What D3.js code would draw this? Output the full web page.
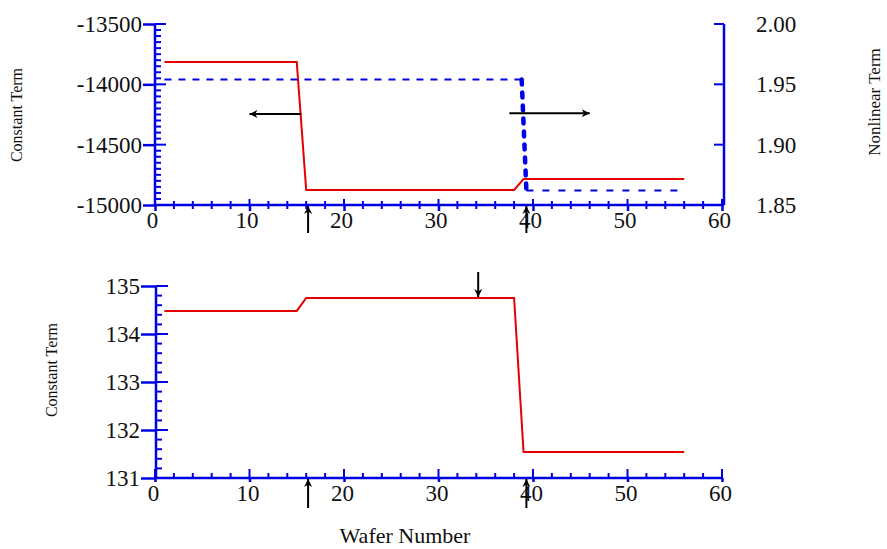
<!DOCTYPE html>
<html>
<head>
<meta charset="utf-8">
<script src="https://cdn.jsdelivr.net/npm/d3@7"></script>
<style>
  body { margin: 0; background: #fff; }
  svg text { font-family: "Liberation Serif", "Times New Roman", serif; fill: #111; }
</style>
</head>
<body>
<svg id="chart" width="887" height="549"></svg>
<script>
// data
const topConstX = [1, 15, 16, 38, 39, 56];
const topConstY = [-13815, -13815, -14875, -14875, -14785, -14785];
const topNonlinX = [1, 38.8, 39.3, 56];
const topNonlinY = [1.954, 1.954, 1.862, 1.862];
const botConstX = [1, 15, 16, 38, 39, 56];
const botConstY = [134.48, 134.48, 134.75, 134.75, 131.54, 131.54];

const xTicks = [0, 10, 20, 30, 40, 50, 60];
const topLeftTicks = [-15000, -14500, -14000, -13500];
const topRightTicks = [1.85, 1.90, 1.95, 2.00];
const botLeftTicks = [131, 132, 133, 134, 135];

// arrows: [x1, y1, x2, y2] in data units of each panel (head at x2,y2)
const topArrowsH = [[15.5, -14245, 10, -14245]];          // left axis
const topArrowsHR = [[37.5, 1.926, 46, 1.926]];           // right axis
const shiftWafers = [16.2, 39.3];
const downWafer = [34.2];

const blue = "#0000e6", red = "#e60000";
const svg = d3.select("#chart");

const x = d3.scaleLinear().domain([0, 60]).range([155, 722]);
const yTop = d3.scaleLinear().domain([-15000, -13500]).range([205, 24]);
const yTopR = d3.scaleLinear().domain([1.85, 2.00]).range([205, 24]);
const yBot = d3.scaleLinear().domain([131, 135]).range([478, 286]);

svg.append("defs").append("marker")
  .attr("id", "head").attr("viewBox", "0 0 10 10")
  .attr("refX", 10).attr("refY", 5)
  .attr("markerWidth", 5).attr("markerHeight", 4)
  .attr("markerUnits", "strokeWidth")
  .attr("orient", "auto")
  .append("path").attr("d", "M0,0 L10,5 L0,10 L3,5 Z").attr("fill", "#000");

function styleAxis(g) {
  g.attr("font-size", 23).attr("font-family", "Liberation Serif, serif");
  g.selectAll("path.domain").attr("stroke", blue).attr("stroke-width", 2.5);
  g.selectAll(".tick line").attr("stroke", blue).attr("stroke-width", 2.5);
  g.selectAll(".tick text").attr("fill", "#111");
}

function minorLines(g, vals, x1, x2, y1, y2) {
  g.selectAll(null).data(vals).join("line")
    .attr("x1", x1).attr("x2", x2).attr("y1", y1).attr("y2", y2)
    .attr("stroke", blue).attr("stroke-width", 2);
}

const plain = d => String(d);

// ---------- top panel ----------
const xMinor = d3.range(0, 61, 2);

// x axis (ticks crossing the line)
const gxT = svg.append("g").attr("transform", "translate(0,205)")
  .call(d3.axisBottom(x).tickValues(xTicks).tickSize(6).tickPadding(1).tickFormat(plain));
styleAxis(gxT);
gxT.select("path.domain").attr("d", "M" + x(0) + ",0H" + x(60));
gxT.selectAll(".tick text").attr("dx", -3);
minorLines(gxT, xMinor.filter(d => d % 10), d => x(d), d => x(d), -4, 4);
minorLines(gxT, xTicks, d => x(d), d => x(d), -6, 0);

// left axis
const gyT = svg.append("g").attr("transform", "translate(155,0)")
  .call(d3.axisLeft(yTop).tickValues(topLeftTicks).tickSize(12).tickPadding(1).tickFormat(plain));
styleAxis(gyT);
gyT.select("path.domain").attr("d", "M0," + yTop(-13500) + "V" + yTop(-15000));
minorLines(gyT, d3.range(-15000, -13499, 50).filter(d => d % 500), 0, 6, d => yTop(d), d => yTop(d));
minorLines(gyT, topLeftTicks, 0, 11, d => yTop(d), d => yTop(d));

// right axis
const gyR = svg.append("g").attr("transform", "translate(724,0)")
  .call(d3.axisRight(yTopR).tickValues(topRightTicks).tickSize(0).tickPadding(32).tickFormat(d3.format(".2f")));
styleAxis(gyR);
gyR.select("path.domain").attr("d", "M0," + yTopR(2.0) + "V" + yTopR(1.85));
minorLines(gyR, topRightTicks, -10, 0, d => yTopR(d), d => yTopR(d));

// series
const lineT = d3.line().x(d => x(d[0])).y(d => yTop(d[1]));
svg.append("path").datum(topConstX.map((v, i) => [v, topConstY[i]]))
  .attr("d", lineT).attr("fill", "none").attr("stroke", red).attr("stroke-width", 2);

const nl = topNonlinX.map((v, i) => [v, topNonlinY[i]]);
const lineR = d3.line().x(d => x(d[0])).y(d => yTopR(d[1]));
svg.append("path").datum(nl.slice(0, 2)).attr("d", lineR)
  .attr("fill", "none").attr("stroke", blue).attr("stroke-width", 2.2).attr("stroke-dasharray", "7,7");
svg.append("path").datum(nl.slice(2)).attr("d", lineR)
  .attr("fill", "none").attr("stroke", blue).attr("stroke-width", 2.2).attr("stroke-dasharray", "7,9");
svg.append("path").datum(nl.slice(1, 3)).attr("d", lineR)
  .attr("fill", "none").attr("stroke", blue).attr("stroke-width", 4.5)
  .attr("stroke-linecap", "round").attr("stroke-dasharray", "5,8");

// horizontal arrows
svg.selectAll(null).data(topArrowsH).join("line")
  .attr("x1", d => x(d[0])).attr("y1", d => yTop(d[1]))
  .attr("x2", d => x(d[2])).attr("y2", d => yTop(d[3]))
  .attr("stroke", "#000").attr("stroke-width", 2).attr("marker-end", "url(#head)");
svg.selectAll(null).data(topArrowsHR).join("line")
  .attr("x1", d => x(d[0])).attr("y1", d => yTopR(d[1]))
  .attr("x2", d => x(d[2])).attr("y2", d => yTopR(d[3]))
  .attr("stroke", "#000").attr("stroke-width", 2).attr("marker-end", "url(#head)");

// shift arrows under the top axis
svg.selectAll(null).data(shiftWafers).join("line")
  .attr("x1", d => x(d)).attr("x2", d => x(d)).attr("y1", 233).attr("y2", 206)
  .attr("stroke", "#000").attr("stroke-width", 2).attr("marker-end", "url(#head)");

// axis titles (top)
svg.append("text").attr("transform", "translate(22,115) rotate(-90)")
  .attr("text-anchor", "middle").attr("font-size", 16).text("Constant Term");
svg.append("text").attr("transform", "translate(880,102) rotate(-90)")
  .attr("text-anchor", "middle").attr("font-size", 17).text("Nonlinear Term");

// ---------- bottom panel ----------
const gxB = svg.append("g").attr("transform", "translate(0,478)")
  .call(d3.axisBottom(x).tickValues(xTicks).tickSize(4).tickPadding(3).tickFormat(plain));
styleAxis(gxB);
gxB.select("path.domain").attr("d", "M" + x(0) + ",0H" + x(60));
gxB.selectAll(".tick text").attr("dx", -2);
minorLines(gxB, xMinor.filter(d => d % 10), d => x(d), d => x(d), -5, 0);
minorLines(gxB, xTicks, d => x(d), d => x(d), -9, 0);

const gyB = svg.append("g").attr("transform", "translate(156,0)")
  .call(d3.axisLeft(yBot).tickValues(botLeftTicks).tickSize(15).tickPadding(1).tickFormat(plain));
styleAxis(gyB);
gyB.select("path.domain").attr("d", "M0," + yBot(135) + "V" + yBot(131));
minorLines(gyB, d3.range(131, 135.01, 0.2).filter(d => Math.abs(d - Math.round(d)) > 0.01), 0, 6, d => yBot(d), d => yBot(d));
minorLines(gyB, botLeftTicks, 0, 12, d => yBot(d), d => yBot(d));

const lineB = d3.line().x(d => x(d[0])).y(d => yBot(d[1]));
svg.append("path").datum(botConstX.map((v, i) => [v, botConstY[i]]))
  .attr("d", lineB).attr("fill", "none").attr("stroke", red).attr("stroke-width", 2);

svg.selectAll(null).data(shiftWafers).join("line")
  .attr("x1", d => x(d)).attr("x2", d => x(d)).attr("y1", 508).attr("y2", 479)
  .attr("stroke", "#000").attr("stroke-width", 2).attr("marker-end", "url(#head)");
svg.selectAll(null).data(downWafer).join("line")
  .attr("x1", d => x(d)).attr("x2", d => x(d)).attr("y1", 272).attr("y2", yBot(134.75) - 1)
  .attr("stroke", "#000").attr("stroke-width", 2).attr("marker-end", "url(#head)");

svg.append("text").attr("transform", "translate(57,370) rotate(-90)")
  .attr("text-anchor", "middle").attr("font-size", 16).text("Constant Term");
svg.append("text").attr("x", 405).attr("y", 543)
  .attr("text-anchor", "middle").attr("font-size", 22).text("Wafer Number");
</script>
</body>
</html>
